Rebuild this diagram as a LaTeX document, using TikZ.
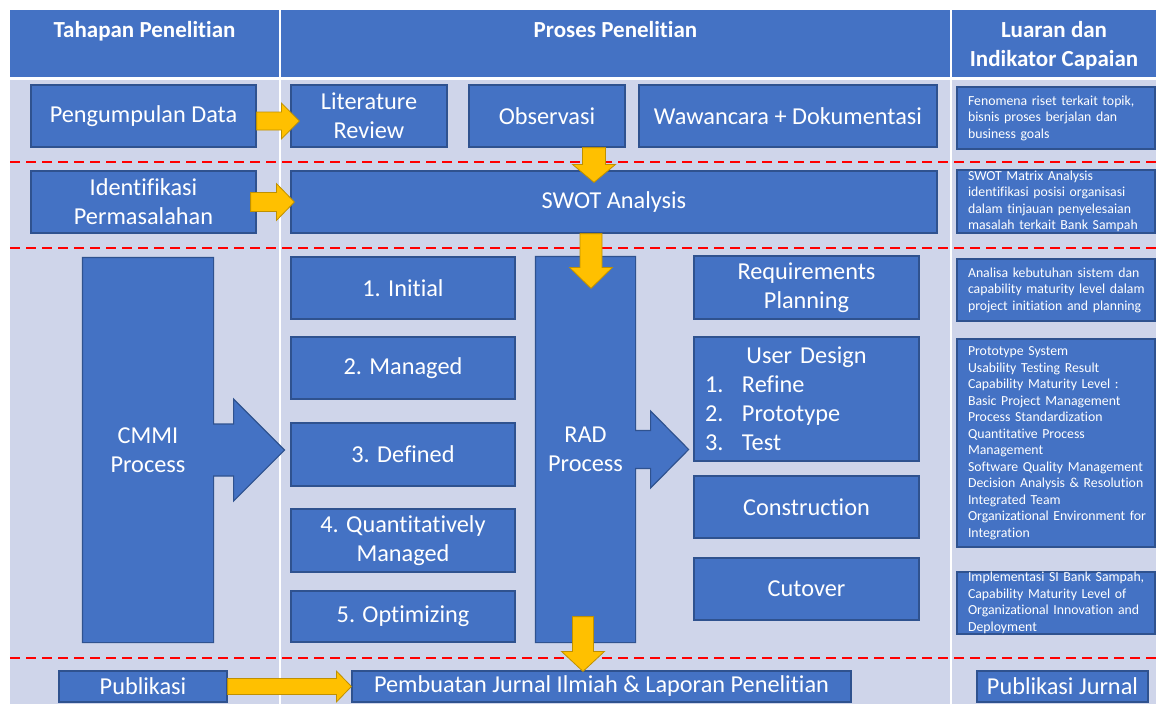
\documentclass[tikz,border=0pt]{standalone}
\usepackage{fontspec}
\setmainfont{Carlito}[Ligatures=NoCommon]
\usetikzlibrary{calc}

\definecolor{hdr}{HTML}{4472C4}
\definecolor{cell}{HTML}{CFD5EA}
\definecolor{boxedge}{HTML}{2F528F}
\definecolor{gold}{HTML}{FFC000}
\definecolor{goldedge}{HTML}{BF9000}

\pgfdeclarelayer{back}
\pgfdeclarelayer{mid}
\pgfsetlayers{back,mid,main}

% block arrow pointing right: #1 start (x used), #2 tip, #3 shaft half width, #4 head half width, #5 head length
\newcommand\goldarrowh[5]{%
  \path[yarrow] let \p1=(#1), \p2=(#2) in
    ({\x1},{\y2+#3}) -- ({\x2-#5},{\y2+#3}) -- ({\x2-#5},{\y2+#4}) -- (\p2)
    -- ({\x2-#5},{\y2-#4}) -- ({\x2-#5},{\y2-#3}) -- ({\x1},{\y2-#3}) -- cycle;}
% block arrow pointing down: #1 start (y used), #2 tip
\newcommand\goldarrowv[5]{%
  \path[yarrow] let \p1=(#1), \p2=(#2) in
    ({\x2-#3},{\y1}) -- ({\x2-#3},{\y2+#5}) -- ({\x2-#4},{\y2+#5}) -- (\p2)
    -- ({\x2+#4},{\y2+#5}) -- ({\x2+#3},{\y2+#5}) -- ({\x2+#3},{\y1}) -- cycle;}

\begin{document}
\begin{tikzpicture}[x=1pt,y=-1pt,
  box/.style={draw=boxedge, fill=hdr, line width=1.2pt, text=white,
    font=\fontsize{24.3}{29}\selectfont, align=center, inner sep=0pt},
  notebox/.style={draw=boxedge, fill=hdr, line width=1.2pt, minimum width=198pt, inner sep=0pt},
  notetext/.style={text=white, font=\fontsize{13.8}{16.5}\selectfont, align=left,
    text width=182pt, inner sep=0pt},
  callout/.style={draw=boxedge, fill=hdr, line width=1.2pt, line join=miter},
  yarrow/.style={draw=goldedge, fill=gold, line width=0.8pt, line join=miter},
  sep/.style={red, dash pattern=on 10pt off 6pt, line width=2pt},
  head/.style={text=white, font=\fontsize{23}{29}\selectfont\bfseries, align=center},
]
\useasboundingbox (0,0) rectangle (1156,704);

% ---------- table grid ----------
\begin{pgfonlayer}{back}
  \fill[white] (0,0) rectangle (1156,704);
  \fill[hdr] (10,10) rectangle (279,77);
  \fill[hdr] (281,10) rectangle (950,77);
  \fill[hdr] (952,10) rectangle (1156,77);
  \fill[cell] (10,80) rectangle (279,704);
  \fill[cell] (281,80) rectangle (950,704);
  \fill[cell] (952,80) rectangle (1156,704);
  \coordinate (sepL1) at (10,162);  \coordinate (sepR1) at (1156,162);
  \coordinate (sepL2) at (10,248);  \coordinate (sepR2) at (1156,248);
  \coordinate (sepL3) at (10,658);  \coordinate (sepR3) at (1156,658);
  \draw[sep] (sepL1) -- (sepR1);
  \draw[sep] (sepL2) -- (sepR2);
  \draw[sep] (sepL3) -- (sepR3);
\end{pgfonlayer}

% ---------- column headings ----------
\node[head, anchor=base] (h1) at (144.5,37) {Tahapan Penelitian};
\node[head, anchor=base] (h2) at (615.5,37) {Proses Penelitian};
\node[head, anchor=base] (h3) at (1054,66) {Luaran dan\\Indikator Capaian};

% ---------- row 1: data collection ----------
\node[box, minimum width=225, minimum height=62] (pd)  at (143.5,116) {Pengumpulan Data};
\node[box, minimum width=156, minimum height=62] (lit) at (369,116) {Literature\\Review};
\node[box, minimum width=156, minimum height=62] (obs) at (547,116) {Observasi};
\node[box, minimum width=298, minimum height=62] (waw) at (788,116) {Wawancara + Dokumentasi};

% ---------- row 2: problem identification ----------
\node[box, minimum width=225, minimum height=62] (idf)  at (143.5,202) {Identifikasi\\Permasalahan};
\node[box, minimum width=646, minimum height=62] (swot) at (614,202) {SWOT Analysis};

% ---------- row 3: CMMI levels and RAD phases ----------
\node[box, minimum width=224, minimum height=62] (s1) at (403,288) {1. Initial};
\node[box, minimum width=224, minimum height=62] (s2) at (403,368) {2. Managed};
\node[box, minimum width=224, minimum height=63] (s3) at (403,454.5) {3. Defined};
\node[box, minimum width=224, minimum height=63] (s4) at (403,540.5) {4. Quantitatively\\Managed};
\node[box, minimum width=224, minimum height=51] (s5) at (403,616.5) {5. Optimizing};

\node[box, draw=none, fill=none, minimum width=130, minimum height=384] (cmmi) at (148,450) {CMMI\\Process};
\node[box, draw=none, fill=none, minimum width=99, minimum height=385] (rad) at (585.5,449.5) {RAD\\Process};

\begin{pgfonlayer}{mid}
  \path[callout] (cmmi.north west) -- (cmmi.north east) -- ($(cmmi.east)+(0,-26)$)
    -- ($(cmmi.east)+(20,-26)$) -- ($(cmmi.east)+(20,-51)$) -- ($(cmmi.east)+(71,0)$)
    -- ($(cmmi.east)+(20,51)$) -- ($(cmmi.east)+(20,26)$) -- ($(cmmi.east)+(0,26)$)
    -- (cmmi.south east) -- (cmmi.south west) -- cycle;
  \path[callout] (rad.north west) -- (rad.north east) -- ($(rad.east)+(0,-19)$)
    -- ($(rad.east)+(15,-19)$) -- ($(rad.east)+(15,-38.5)$) -- ($(rad.east)+(53,0)$)
    -- ($(rad.east)+(15,38.5)$) -- ($(rad.east)+(15,19)$) -- ($(rad.east)+(0,19)$)
    -- (rad.south east) -- (rad.south west) -- cycle;
\end{pgfonlayer}

\node[box, minimum width=225, minimum height=63] (rp) at (806.5,287.5) {Requirements\\Planning};
\node[box, minimum width=225, minimum height=124, text width=203pt, align=left] (ud) at (806.5,399)
  {\makebox[203pt]{User Design}\\
   \makebox[37pt][l]{1.}Refine\\
   \makebox[37pt][l]{2.}Prototype\\
   \makebox[37pt][l]{3.}Test};
\node[box, minimum width=225, minimum height=62] (con) at (806.5,507) {Construction};
\node[box, minimum width=225, minimum height=62] (cut) at (806.5,589) {Cutover};

% ---------- outputs and indicators ----------
\node[notebox, minimum height=62] (r1) at (1056,118) {};
\node[notetext] (r1t) at ($(r1)+(3,0)$) {Fenomena riset terkait topik,\\bisnis proses berjalan dan\\business goals};
\node[notebox, minimum height=63] (r2) at (1056,201.5) {};
\node[notetext] (r2t) at ($(r2)+(3,0)$) {SWOT Matrix Analysis\\identifikasi posisi organisasi\\dalam tinjauan penyelesaian\\masalah terkait Bank Sampah};
\node[notebox, minimum height=62] (r3) at (1056,290) {};
\node[notetext] (r3t) at ($(r3)+(3,0)$) {Analisa kebutuhan sistem dan\\capability maturity level dalam\\project initiation and planning};
\node[notebox, minimum height=208] (r4) at (1056,443) {};
\node[notetext] (r4t) at ($(r4)+(3,0)$) {Prototype System\\Usability Testing Result\\Capability Maturity Level :\\Basic Project Management\\Process Standardization\\Quantitative Process\\Management\\Software Quality Management\\Decision Analysis \& Resolution\\Integrated Team\\Organizational Environment for\\Integration};
\node[notebox, minimum height=62] (r5) at (1056,603) {};
\node[notetext] (r5t) at ($(r5)+(3,0)$) {Implementasi SI Bank Sampah,\\Capability Maturity Level of\\Organizational Innovation and\\Deployment};

% ---------- publication row ----------
\node[box, minimum width=168, minimum height=31] (pub)  at (143,686.5) {Publikasi};
\node[box, minimum width=499, minimum height=31] (pemb) at (601.5,686.5) {Pembuatan Jurnal Ilmiah \& Laporan Penelitian};
\node[box, minimum width=171, minimum height=31] (pj)   at (1062.5,686.5) {Publikasi Jurnal};

% ---------- flow arrows ----------
\goldarrowh{pd.east}{$(lit.west)+(9,5)$}{9pt}{18pt}{18pt}
\goldarrowh{$(idf.east)+(-6,0)$}{$(swot.west)+(4,0)$}{9.5pt}{18.5pt}{18pt}
\goldarrowv{obs.south}{$(swot.north)+(-20,12)$}{11.5pt}{21.5pt}{18pt}
\goldarrowv{swot.south}{$(rad.north)+(5.5,32)$}{11pt}{21.5pt}{21pt}
\goldarrowv{$(rad.south)+(0,-26)$}{$(pemb.north)+(-18.5,1)$}{10.5pt}{21.5pt}{20pt}
\goldarrowh{pub.east}{pemb.west}{8pt}{15.5pt}{15pt}

\end{tikzpicture}
\end{document}
